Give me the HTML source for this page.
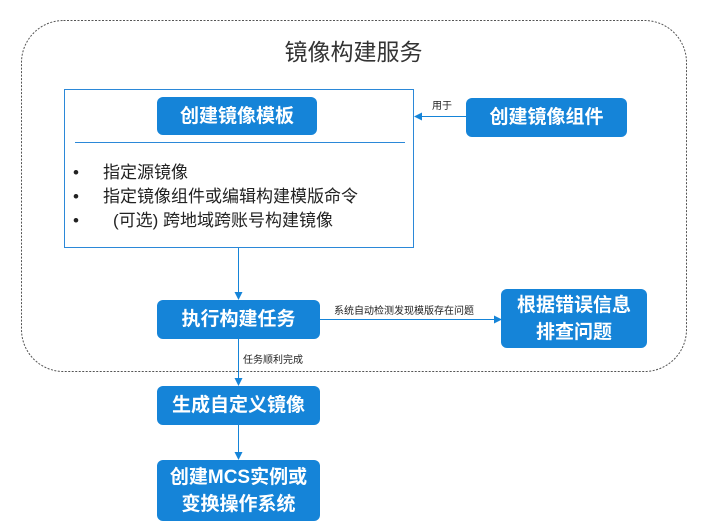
<!DOCTYPE html>
<html><head><meta charset="utf-8"><style>
body{margin:0;width:707px;height:530px;background:#fff;position:relative;overflow:hidden;font-family:"Liberation Sans","Noto Sans CJK SC",sans-serif;}
.a{position:absolute;}
.btn{position:absolute;background:#1584d8;color:#fff;border-radius:6px;display:flex;align-items:center;justify-content:center;text-align:center;font-weight:bold;font-size:19px;line-height:27px;}
.t{position:absolute;white-space:nowrap;color:#222;}
</style></head><body>
<svg class="a" style="left:0;top:0" width="707" height="530">
<defs><marker id="m" markerWidth="8" markerHeight="8" refX="7" refY="4" orient="auto" markerUnits="userSpaceOnUse"><path d="M0,0 L8,4 L0,8 z" fill="#1584d8"/></marker></defs>
<rect x="21.5" y="20.5" width="665" height="351" rx="42" fill="none" stroke="#555" stroke-dasharray="2,1.5"/>
<rect x="64.5" y="89.5" width="349" height="158" fill="#fff" stroke="#2b88d8"/>
<line x1="75" y1="142.5" x2="405" y2="142.5" stroke="#2b88d8"/>
<line x1="467" y1="116.5" x2="415" y2="116.5" stroke="#1584d8" marker-end="url(#m)"/>
<line x1="238.5" y1="248" x2="238.5" y2="299" stroke="#1584d8" marker-end="url(#m)"/>
<line x1="320" y1="319.5" x2="501" y2="319.5" stroke="#1584d8" marker-end="url(#m)"/>
<line x1="238.5" y1="339" x2="238.5" y2="385" stroke="#1584d8" marker-end="url(#m)"/>
<line x1="238.5" y1="425" x2="238.5" y2="459" stroke="#1584d8" marker-end="url(#m)"/>
</svg>
<div class="t" style="left:0;width:707px;text-align:center;top:33px;font-size:23px;color:#333">镜像构建服务</div>
<div class="btn" style="left:157px;top:97px;width:160px;height:38px">创建镜像模板</div>
<div class="btn" style="left:466px;top:98px;width:161px;height:39px">创建镜像组件</div>
<div class="t" style="left:432px;top:97px;font-size:10px">用于</div>
<div class="t" style="left:73px;top:161px;font-size:17px;line-height:24px">•<br>•<br>•</div>
<div class="t" style="left:103px;top:161px;font-size:17px;line-height:24px">指定源镜像<br>指定镜像组件或编辑构建模版命令</div>
<div class="t" style="left:113px;top:209px;font-size:17px;line-height:24px">(可选) 跨地域跨账号构建镜像</div>
<div class="btn" style="left:157px;top:300px;width:163px;height:39px">执行构建任务</div>
<div class="t" style="left:334px;top:302px;font-size:10px">系统自动检测发现模版存在问题</div>
<div class="btn" style="left:501px;top:289px;width:146px;height:59px">根据错误信息<br>排查问题</div>
<div class="t" style="left:243px;top:351px;font-size:10px">任务顺利完成</div>
<div class="btn" style="left:157px;top:386px;width:163px;height:39px">生成自定义镜像</div>
<div class="btn" style="left:157px;top:460px;width:163px;height:61px">创建MCS实例或<br>变换操作系统</div>
</body></html>
